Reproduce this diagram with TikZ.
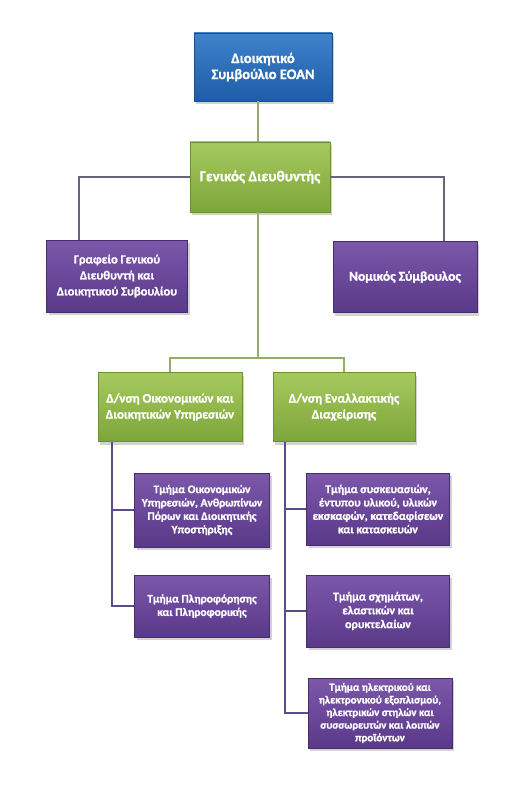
\documentclass[tikz,border=0pt]{standalone}
\usepackage{fontspec}
\setmainfont{Carlito}[BoldFeatures={FakeBold=1.2}]
\usetikzlibrary{shadows}
\definecolor{bluetop}{HTML}{3F82CC}
\definecolor{bluebot}{HTML}{1E5CA6}
\definecolor{blueedge}{HTML}{1A4E8C}
\definecolor{greentop}{HTML}{A6C95E}
\definecolor{greenbot}{HTML}{7DA63A}
\definecolor{greenedge}{HTML}{6A9230}
\definecolor{purptop}{HTML}{7C57AA}
\definecolor{purpbot}{HTML}{5A3989}
\definecolor{purpedge}{HTML}{472C72}
\definecolor{lineolive}{HTML}{94AD68}
\definecolor{linegrey}{HTML}{6A6478}
\definecolor{linepurp}{HTML}{5E4C88}
\tikzset{
  box/.style={rectangle, draw=#1edge, line width=0.8pt, top color=#1top, bottom color=#1bot,
    text=white, align=center, inner sep=2pt,
    font=\bfseries\fontsize{12.5}{16}\selectfont,
    drop shadow={shadow xshift=2pt, shadow yshift=-3pt, opacity=0.35}},
  smallbox/.style={box=#1, font=\bfseries\fontsize{11.5}{13.4}\selectfont},
  conn/.style={line width=2pt, draw=#1},
}
\begin{document}
\begin{tikzpicture}[x=1pt,y=-1pt]
\useasboundingbox[fill=white] (0,0) rectangle (524,786);
% nodes
\node[box=blue, minimum width=138, minimum height=68, font=\bfseries\fontsize{14.5}{16}\selectfont] (board) at (263,67) {Διοικητικό\\Συμβούλιο ΕΟΑΝ};
\node[box=green, minimum width=140, minimum height=70, font=\bfseries\fontsize{15}{17}\selectfont] (gm) at (260,177) {Γενικός Διευθυντής};
\node[box=purp, minimum width=141, minimum height=72] (office) at (117,276) {Γραφείο Γενικού\\Διευθυντή και\\Διοικητικού Συβουλίου};
\node[box=purp, minimum width=144, minimum height=71, font=\bfseries\fontsize{13.5}{16}\selectfont] (legal) at (405,277) {Νομικός Σύμβουλος};
\node[box=green, minimum width=144, minimum height=69, font=\bfseries\fontsize{13}{16}\selectfont] (dfin) at (170,407) {Δ/νση Οικονομικών και\\Διοικητικών Υπηρεσιών};
\node[box=green, minimum width=142, minimum height=69, font=\bfseries\fontsize{13}{16}\selectfont] (dalt) at (344,407) {Δ/νση Εναλλακτικής\\Διαχείρισης};
\node[smallbox=purp, minimum width=135, minimum height=74] (t1) at (202,510) {Τμήμα Οικονομικών\\Υπηρεσιών, Ανθρωπίνων\\Πόρων και Διοικητικής\\Υποστήριξης};
\node[smallbox=purp, minimum width=135, minimum height=62] (t2) at (202,606) {Τμήμα Πληροφόρησης\\και Πληροφορικής};
\node[smallbox=purp, minimum width=143, minimum height=72, font=\bfseries\fontsize{11.8}{13.4}\selectfont] (a1) at (378,509) {Τμήμα συσκευασιών,\\έντυπου υλικού, υλικών\\εκσκαφών, κατεδαφίσεων\\και κατασκευών};
\node[smallbox=purp, minimum width=143, minimum height=72, font=\bfseries\fontsize{12}{13.8}\selectfont] (a2) at (378,611) {Τμήμα σχημάτων,\\ελαστικών και\\ορυκτελαίων};
\node[smallbox=purp, minimum width=144, minimum height=70, font=\bfseries\fontsize{11}{12.6}\selectfont] (a3) at (380,713) {Τμήμα ηλεκτρικού και\\ηλεκτρονικού εξοπλισμού,\\ηλεκτρικών στηλών και\\συσσωρευτών και λοιπών\\προϊόντων};
\coordinate (bus) at (258,358);
% connectors
\draw[conn=lineolive] (board.south -| bus) -- (gm.north -| bus);
\draw[conn=linegrey] (gm.west) -| ([xshift=-38pt]office.north);
\draw[conn=linegrey] (gm.east) -| ([xshift=39pt]legal.north);
\draw[conn=lineolive] (gm.south -| bus) -- (bus);
\draw[conn=lineolive] (dfin.north) |- (bus) -| (dalt.north);
\draw[conn=linepurp] ([xshift=-58pt]dfin.south) |- (t1.west);
\draw[conn=linepurp] ([xshift=-58pt]dfin.south) |- (t2.west);
\draw[conn=linepurp] ([xshift=-59pt]dalt.south) |- (a1.west);
\draw[conn=linepurp] ([xshift=-59pt]dalt.south) |- (a2.west);
\draw[conn=linepurp] ([xshift=-59pt]dalt.south) |- (a3.west);
\end{tikzpicture}
\end{document}
